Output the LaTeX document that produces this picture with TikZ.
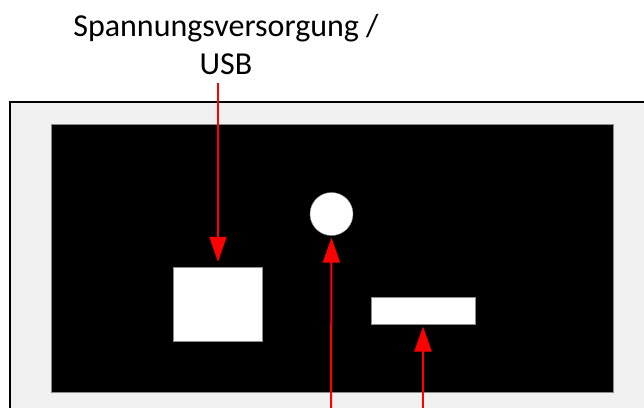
\documentclass[tikz,border=0pt]{standalone}
\usepackage{fontspec}
\setmainfont{Carlito}
\usetikzlibrary{arrows.meta}

\begin{document}
\begin{tikzpicture}[
          x=1pt, y=-1pt,
          part/.style={
            draw=black!45,
            thin,
            fill=white,
            inner sep=0pt,
          },
          pointer/.style={
            draw=red,
            line width=2pt,
          },
          >={Triangle[length=25pt,width=17pt]},
        ]
        \useasboundingbox (0,0) rectangle (644,407);
        % housing and board
        \draw[line width=2pt, fill=black!6] (10,102) rectangle (660,420);
        \draw[draw=black!45, thin, fill=black] (51,124) rectangle (613,392);
        % parts on the board
        \node[part, rectangle, minimum width=89pt, minimum height=74pt] at (218,304) (usb) {};
        \node[part, circle, minimum size=43pt] at (331.5,214) (led) {};
        \node[part, rectangle, minimum width=104pt, minimum height=27pt] at (423,310.8) (slot) {};
        % label
        \node[align=center, inner sep=0pt, anchor=south, font=\fontsize{32}{38}\selectfont] at (226,75) (lbl) {Spannungsversorgung /\\USB};
        \coordinate (ledend) at (331,410);
        \coordinate (slotend) at (423,410);
        \draw[pointer, ->, shorten >=5pt] ([yshift=-8pt]lbl.south -| usb.north) -- (usb.north);
        \draw[pointer, ->, shorten >=2pt] (ledend) -- (led.south);
        \draw[pointer, ->, shorten >=2pt] (slotend) -- (slot.south);
        \end{tikzpicture}
\end{document}
